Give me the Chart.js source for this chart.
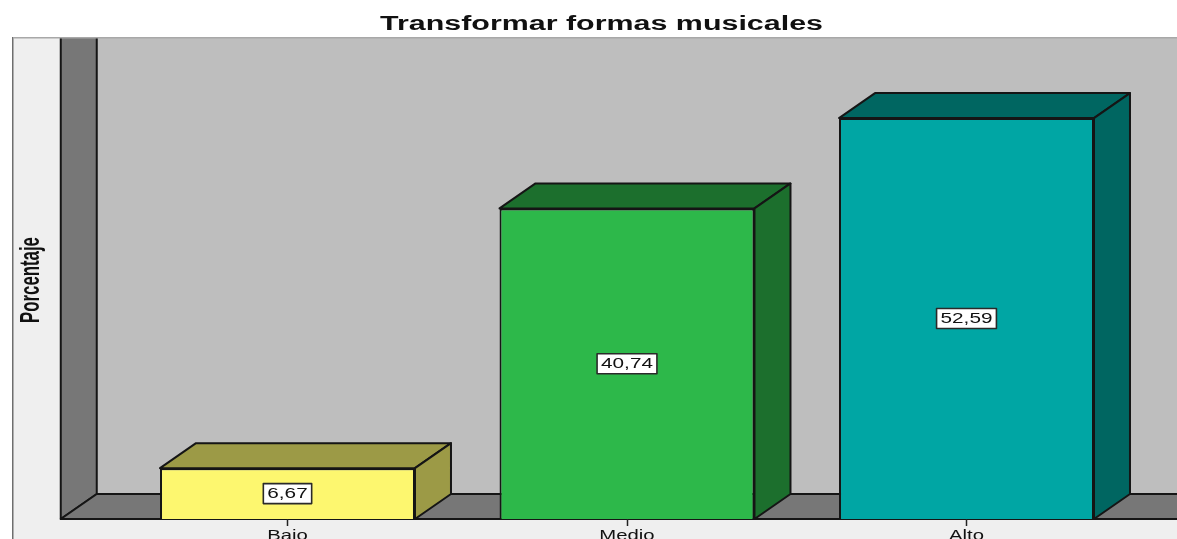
<!DOCTYPE html>
<html>
<head>
<meta charset="utf-8">
<title>Transformar formas musicales</title>
<script src="https://cdn.jsdelivr.net/npm/chart.js@4"></script>
<style>
    html, body { margin: 0; padding: 0; background: #fff; overflow: hidden; }
    canvas { display: block; }
</style>
</head>
<body>
<canvas id="chart" width="1177" height="539"></canvas>
<script>
const categories = ["Bajo", "Medio", "Alto"];
const porcentajes = [6.67, 40.74, 52.59];
const chartTitle = "Transformar formas musicales";
const yTitle = "Porcentaje";

const frontColors = ["#fdf76f", "#2db84a", "#00a6a4"];
const darkColors = ["#9c9a46", "#1c6f2d", "#006661"];

const DX = 36; // depth of the 3d effect
const DY = 25;
const EDGE = "#151515";

// text in the original is stretched sideways
function wideText(ctx, text, x, y, font, sx) {
    ctx.save();
    ctx.font = font;
    ctx.fillStyle = "#111";
    ctx.textAlign = "center";
    ctx.textBaseline = "middle";
    ctx.translate(x, y);
    ctx.scale(sx, 1);
    ctx.fillText(text, 0, 0);
    ctx.restore();
}

function poly(ctx, pts, fill) {
    ctx.beginPath();
    pts.forEach((p, i) => (i ? ctx.lineTo(p[0], p[1]) : ctx.moveTo(p[0], p[1])));
    ctx.closePath();
    ctx.fillStyle = fill;
    ctx.fill();
    ctx.lineJoin = "round";
    ctx.lineWidth = 2;
    ctx.strokeStyle = EDGE;
    ctx.stroke();
}

const backdrop = {
    id: "backdrop",
    beforeDraw(chart) {
        const { ctx, chartArea, width, height } = chart;
        const wallX = chartArea.left - 57;
        const top = chartArea.top;
        const base = chartArea.bottom;

        ctx.save();
        // outer panel
        ctx.fillStyle = "#efefef";
        ctx.fillRect(12, top, width - 12, height - top);
        ctx.fillStyle = "#bebebe";
        ctx.fillRect(wallX, top, width - wallX, base - top);

        // left wall and floor, top of the wall runs off the panel
        ctx.save();
        ctx.beginPath();
        ctx.rect(0, top, width, height - top);
        ctx.clip();
        poly(ctx, [[wallX, top - 5], [wallX + DX, top - 5], [wallX + DX, base - DY], [wallX, base]], "#777777");
        poly(ctx, [[wallX, base], [wallX + DX, base - DY], [width + 5, base - DY], [width + 5, base]], "#777777");
        ctx.restore();

        ctx.fillStyle = "#6e6e6e";
        ctx.fillRect(12, top - 1, 1.5, height - top + 1);
        ctx.fillStyle = "#a8a8a8";
        ctx.fillRect(13, top - 1, width - 13, 1.5);
        ctx.restore();
    },
    afterDatasetsDraw(chart) {
        const { ctx } = chart;
        const meta = chart.getDatasetMeta(0);
        ctx.save();
        meta.data.forEach((bar, i) => {
            const { x, y, base, width } = bar.getProps(["x", "y", "base", "width"], true);
            const l = x - width / 2;
            const r = x + width / 2;
            poly(ctx, [[l, y], [l + DX, y - DY], [r + DX, y - DY], [r, y]], darkColors[i]);
            poly(ctx, [[r, y], [r + DX, y - DY], [r + DX, base - DY], [r, base]], darkColors[i]);

            // value label box
            const label = porcentajes[i].toFixed(2).replace(".", ",");
            const cy = (y + base) / 2;
            ctx.font = "14px 'Liberation Sans'";
            const boxW = ctx.measureText(label).width * 1.48 + 8;
            ctx.fillStyle = "#fff";
            ctx.strokeStyle = "#2a2a2a";
            ctx.lineWidth = 1.6;
            ctx.fillRect(x - boxW / 2, cy - 10, boxW, 20);
            ctx.strokeRect(x - boxW / 2, cy - 10, boxW, 20);
            wideText(ctx, label, x, cy + 0.5, "14px 'Liberation Sans'", 1.48);
        });
        ctx.restore();
    },
    afterDraw(chart) {
        const { ctx, chartArea, scales } = chart;
        wideText(ctx, chartTitle, 601.5, 25, "bold 19.5px 'Liberation Sans'", 1.56);
        categories.forEach((c, i) => {
            wideText(ctx, c, scales.x.getPixelForTick(i), chartArea.bottom + 17, "14px 'Liberation Sans'", 1.45);
        });

        // axis title, squeezed along its length
        ctx.save();
        ctx.translate(38.5, 280);
        ctx.rotate(-Math.PI / 2);
        ctx.scale(0.6, 1);
        ctx.font = "bold 28px 'Liberation Sans'";
        ctx.fillStyle = "#111";
        ctx.textAlign = "center";
        ctx.textBaseline = "alphabetic";
        ctx.fillText(yTitle, 0, 0);
        ctx.restore();
    },
};

new Chart(document.getElementById("chart"), {
    type: "bar",
    data: {
        labels: categories,
        datasets: [
            {
                data: porcentajes,
                backgroundColor: frontColors,
                borderColor: EDGE,
                borderWidth: 2,
                barPercentage: 0.751,
                categoryPercentage: 1,
            },
        ],
    },
    options: {
        responsive: false,
        animation: false,
        layout: { padding: { top: 38, right: 40.75, left: 0, bottom: 0 } },
        plugins: { legend: { display: false }, tooltip: { enabled: false }, title: { display: false } },
        scales: {
            x: {
                border: { display: false },
                grid: { drawOnChartArea: false, offset: false, tickLength: 7, tickColor: "#222", tickWidth: 1.5 },
                ticks: { display: false },
                afterFit: (scale) => {
                    scale.height = 20;
                },
            },
            y: {
                min: 0,
                max: 63.1,
                border: { display: false },
                grid: { display: false },
                ticks: { display: false },
                afterFit: (scale) => {
                    scale.width = 117.75;
                },
            },
        },
    },
    plugins: [backdrop],
});
</script>
</body>
</html>
